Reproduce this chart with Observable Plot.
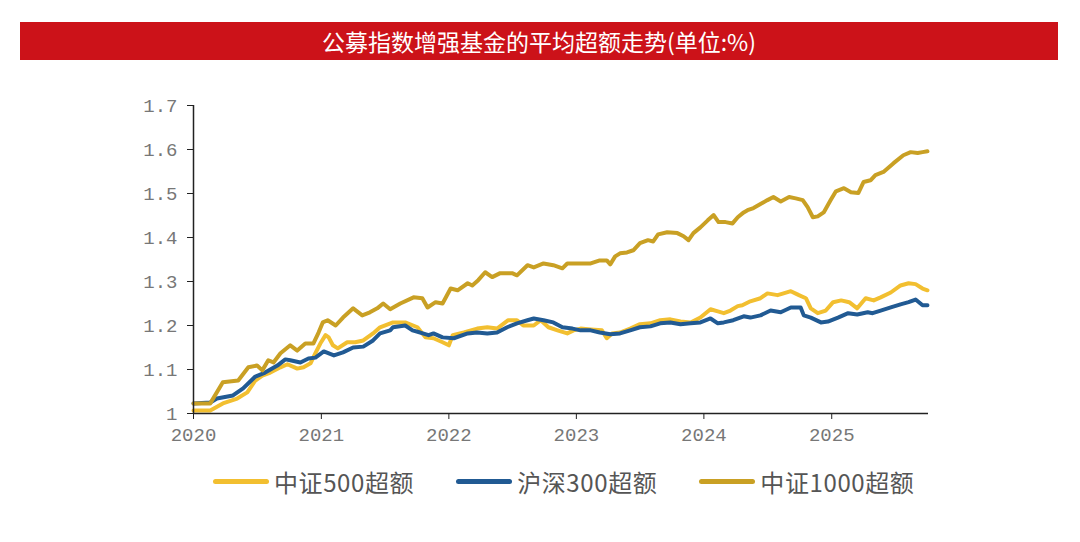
<!DOCTYPE html>
<html>
<head>
<meta charset="utf-8">
<script src="https://cdn.jsdelivr.net/npm/d3@7"></script>
<script src="https://cdn.jsdelivr.net/npm/@observablehq/plot@0.6"></script>
<style>
  html, body { margin: 0; padding: 0; background: #fff; }
  #wrap { position: relative; width: 1080px; height: 542px; overflow: hidden; }
  #title { position: absolute; left: 20px; top: 22px; width: 1038px; height: 38px; background: #CC1219;
           color: #fff; font-family: "Noto Sans CJK SC", sans-serif; font-size: 23px; line-height: 38px; text-align: center; }
  #chart { position: absolute; left: 0; top: 60px; }
  #legend { position: absolute; left: 213px; top: 464px; display: flex; gap: 42px; align-items: center;
            font-family: "Noto Sans CJK SC", sans-serif; font-size: 24px; color: #555; letter-spacing: 0.6px; }
  .item { display: flex; align-items: center; }
  .sw { width: 56px; height: 5px; border-radius: 3px; margin-right: 5px; }
</style>
</head>
<body>
<div id="wrap">
  <div id="title"></div>
  <div id="chart"></div>
  <div id="legend"></div>
</div>
<script>
const titleText = "公募指数增强基金的平均超额走势(单位:%)";
const seriesNames = ["中证500超额", "沪深300超额", "中证1000超额"];
const seriesColors = ["#F2BF30", "#215A93", "#C9A024"];
const yTicks = [1, 1.1, 1.2, 1.3, 1.4, 1.5, 1.6, 1.7];
const xTicks = ["2020-01-01", "2021-01-01", "2022-01-01", "2023-01-01", "2024-01-01", "2025-01-01"];

const csi500 = [
["2020-01-01",1.007],["2020-02-18",1.007],["2020-03-25",1.023],["2020-05-05",1.034],["2020-06-03",1.048],
["2020-06-26",1.075],["2020-07-16",1.086],["2020-08-08",1.093],["2020-09-06",1.105],["2020-09-26",1.112],
["2020-10-24",1.102],["2020-11-11",1.105],["2020-12-01",1.114],["2020-12-15",1.137],["2020-12-29",1.159],
["2021-01-13",1.178],["2021-01-22",1.173],["2021-02-03",1.155],["2021-02-17",1.148],["2021-03-16",1.162],
["2021-04-08",1.162],["2021-05-01",1.166],["2021-05-29",1.182],["2021-06-18",1.196],["2021-07-25",1.207],
["2021-08-29",1.207],["2021-10-03",1.196],["2021-10-26",1.173],["2021-11-18",1.171],["2021-12-14",1.162],
["2022-01-01",1.155],["2022-01-12",1.178],["2022-02-13",1.184],["2022-03-23",1.193],["2022-04-21",1.196],
["2022-05-19",1.193],["2022-06-20",1.212],["2022-07-15",1.212],["2022-08-02",1.200],["2022-09-01",1.200],
["2022-09-21",1.212],["2022-10-13",1.196],["2022-11-08",1.189],["2022-12-06",1.182],["2022-12-24",1.189],
["2023-01-13",1.193],["2023-02-11",1.191],["2023-03-15",1.189],["2023-03-29",1.171],["2023-04-13",1.182],
["2023-05-06",1.184],["2023-06-04",1.193],["2023-07-02",1.203],["2023-08-01",1.205],["2023-08-29",1.212],
["2023-09-27",1.214],["2023-10-26",1.209],["2023-11-24",1.207],["2023-12-22",1.218],["2024-01-20",1.237],
["2024-02-10",1.232],["2024-02-27",1.228],["2024-03-17",1.234],["2024-04-07",1.244],["2024-04-20",1.246],
["2024-05-13",1.255],["2024-06-11",1.262],["2024-07-01",1.273],["2024-07-30",1.269],["2024-08-16",1.273],
["2024-09-06",1.278],["2024-09-29",1.269],["2024-10-19",1.262],["2024-11-02",1.239],["2024-11-22",1.228],
["2024-12-15",1.234],["2025-01-05",1.253],["2025-01-28",1.257],["2025-02-20",1.253],["2025-03-15",1.239],
["2025-04-08",1.262],["2025-05-01",1.257],["2025-05-21",1.264],["2025-06-19",1.275],["2025-07-17",1.291],
["2025-08-09",1.296],["2025-08-29",1.294],["2025-09-18",1.284],["2025-10-02",1.280]
];

const csi300 = [
["2020-01-01",1.023],["2020-02-18",1.025],["2020-03-08",1.034],["2020-04-23",1.041],["2020-05-22",1.057],
["2020-06-26",1.084],["2020-07-24",1.093],["2020-08-28",1.109],["2020-09-20",1.123],["2020-10-04",1.121],
["2020-11-02",1.116],["2020-11-25",1.125],["2020-12-15",1.127],["2021-01-08",1.141],["2021-02-06",1.132],
["2021-03-04",1.139],["2021-04-02",1.150],["2021-05-01",1.152],["2021-05-29",1.166],["2021-06-18",1.182],
["2021-07-17",1.189],["2021-07-25",1.196],["2021-08-29",1.200],["2021-09-19",1.189],["2021-10-11",1.184],
["2021-11-04",1.178],["2021-11-18",1.182],["2021-12-14",1.173],["2022-01-15",1.171],["2022-02-24",1.182],
["2022-03-23",1.184],["2022-04-21",1.182],["2022-05-19",1.184],["2022-06-17",1.196],["2022-07-15",1.205],
["2022-08-14",1.212],["2022-09-01",1.216],["2022-09-29",1.212],["2022-10-27",1.207],["2022-11-22",1.196],
["2022-12-21",1.193],["2023-01-13",1.189],["2023-02-11",1.189],["2023-03-09",1.184],["2023-04-08",1.180],
["2023-05-06",1.182],["2023-06-04",1.189],["2023-07-02",1.196],["2023-08-01",1.198],["2023-08-29",1.205],
["2023-09-27",1.207],["2023-10-26",1.203],["2023-11-24",1.205],["2023-12-22",1.207],["2024-01-20",1.216],
["2024-02-10",1.205],["2024-02-27",1.207],["2024-03-25",1.212],["2024-04-24",1.221],["2024-05-13",1.218],
["2024-06-11",1.223],["2024-07-10",1.234],["2024-08-08",1.230],["2024-09-06",1.241],["2024-10-04",1.241],
["2024-10-13",1.223],["2024-11-02",1.218],["2024-12-01",1.207],["2024-12-21",1.209],["2025-01-19",1.218],
["2025-02-17",1.228],["2025-03-15",1.225],["2025-04-14",1.230],["2025-04-28",1.228],["2025-05-21",1.234],
["2025-06-19",1.241],["2025-07-17",1.248],["2025-08-09",1.253],["2025-08-29",1.259],["2025-09-18",1.246],
["2025-10-02",1.246]
];

const csi1000 = [
["2020-01-01",1.023],["2020-02-18",1.023],["2020-03-25",1.071],["2020-05-08",1.075],["2020-06-06",1.105],
["2020-07-01",1.109],["2020-07-16",1.098],["2020-08-02",1.121],["2020-08-17",1.116],["2020-09-06",1.137],
["2020-10-04",1.155],["2020-10-24",1.143],["2020-11-16",1.159],["2020-12-09",1.159],["2020-12-24",1.184],
["2021-01-05",1.207],["2021-01-19",1.212],["2021-02-11",1.200],["2021-03-04",1.218],["2021-04-02",1.239],
["2021-04-28",1.223],["2021-05-20",1.230],["2021-06-10",1.239],["2021-06-27",1.250],["2021-07-17",1.237],
["2021-08-15",1.250],["2021-09-22",1.264],["2021-10-17",1.262],["2021-11-01",1.241],["2021-11-24",1.253],
["2021-12-14",1.250],["2022-01-06",1.284],["2022-01-26",1.280],["2022-02-24",1.296],["2022-03-09",1.291],
["2022-03-26",1.303],["2022-04-15",1.321],["2022-05-05",1.310],["2022-05-28",1.319],["2022-07-01",1.319],
["2022-07-15",1.314],["2022-08-14",1.337],["2022-09-01",1.332],["2022-09-29",1.341],["2022-10-27",1.337],
["2022-11-22",1.330],["2022-12-06",1.341],["2023-01-13",1.341],["2023-02-11",1.341],["2023-03-09",1.348],
["2023-03-29",1.348],["2023-04-08",1.339],["2023-04-22",1.357],["2023-05-06",1.364],["2023-05-26",1.366],
["2023-06-13",1.371],["2023-07-02",1.387],["2023-07-25",1.394],["2023-08-09",1.391],["2023-08-23",1.407],
["2023-09-18",1.412],["2023-10-17",1.410],["2023-11-04",1.403],["2023-11-18",1.394],["2023-12-02",1.410],
["2023-12-22",1.423],["2024-01-12",1.439],["2024-01-29",1.451],["2024-02-12",1.435],["2024-03-03",1.435],
["2024-03-23",1.432],["2024-04-07",1.446],["2024-04-24",1.457],["2024-05-05",1.462],["2024-05-22",1.467],
["2024-06-11",1.476],["2024-07-01",1.485],["2024-07-18",1.492],["2024-08-08",1.482],["2024-09-01",1.492],
["2024-09-20",1.489],["2024-10-10",1.485],["2024-10-24",1.469],["2024-11-08",1.446],["2024-11-22",1.448],
["2024-12-09",1.457],["2024-12-29",1.485],["2025-01-13",1.505],["2025-02-05",1.512],["2025-02-25",1.503],
["2025-03-18",1.501],["2025-04-02",1.526],["2025-04-22",1.530],["2025-05-06",1.542],["2025-05-29",1.549],
["2025-06-27",1.569],["2025-07-25",1.587],["2025-08-15",1.594],["2025-09-04",1.592],["2025-09-18",1.594],
["2025-10-02",1.596]
];

const seriesData = [csi500, csi300, csi1000];
const parse = d3.utcParse("%Y-%m-%d");
const rows = seriesData.flatMap((arr, i) => arr.map(([d, v]) => ({date: parse(d), value: v, series: seriesNames[i]})));
const xStart = parse("2020-01-01");
const xEnd = parse("2025-10-05");

document.getElementById("title").textContent = titleText;

const chart = Plot.plot({
  width: 1080,
  height: 390,
  marginLeft: 193,
  marginRight: 152,
  marginTop: 45,
  marginBottom: 37,
  style: {fontFamily: "'Liberation Mono', 'DejaVu Sans Mono', monospace", fontSize: "19px", background: "#fff"},
  x: {type: "utc", domain: [xStart, xEnd]},
  y: {domain: [1, 1.7]},
  color: {domain: seriesNames, range: seriesColors},
  marks: [
    Plot.axisY({ticks: yTicks, tickFormat: d => d === 1 ? "1" : d.toFixed(1), tickSize: 6, tickPadding: 10,
                stroke: "#222", fill: "#777", fontSize: 19, label: null}),
    Plot.axisX({ticks: xTicks.map(parse), tickFormat: d3.utcFormat("%Y"), tickSize: 6, tickPadding: 8,
                stroke: "#222", fill: "#777", fontSize: 19, label: null}),
    Plot.lineY(rows, {x: "date", y: "value", z: "series", stroke: "series", strokeWidth: 4,
                      strokeLinejoin: "round", strokeLinecap: "round"}),
    Plot.ruleY([1], {stroke: "#222", strokeWidth: 1.5}),
    Plot.ruleX([xStart], {stroke: "#222", strokeWidth: 1.5})
  ]
});
document.getElementById("chart").appendChild(chart);

const legend = document.getElementById("legend");
seriesNames.forEach((name, i) => {
  const item = document.createElement("div");
  item.className = "item";
  const sw = document.createElement("div");
  sw.className = "sw";
  sw.style.background = seriesColors[i];
  const t = document.createElement("span");
  t.textContent = name;
  item.appendChild(sw);
  item.appendChild(t);
  legend.appendChild(item);
});
</script>
</body>
</html>
